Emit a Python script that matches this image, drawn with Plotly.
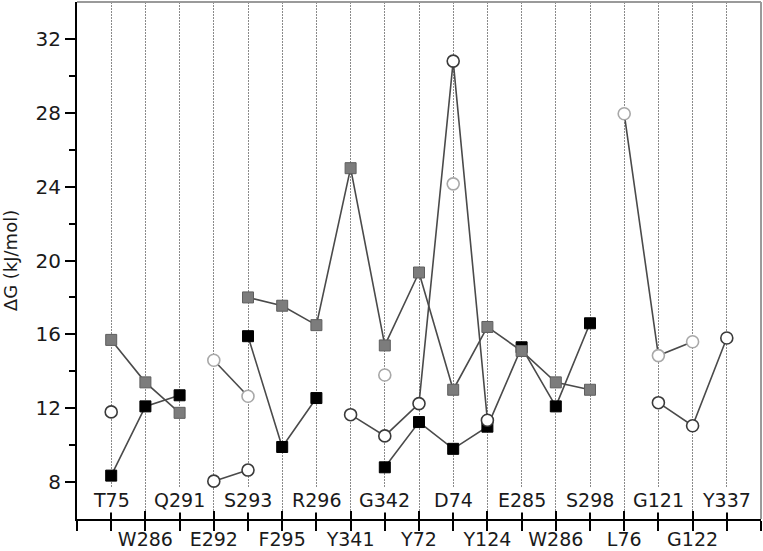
import plotly.graph_objects as go

categories = ["T75", "W286", "Q291", "E292", "S293", "F295", "R296", "Y341", "G342",
              "Y72", "D74", "Y124", "E285", "W286", "S298", "L76", "G121", "G122", "Y337"]

gray_squares = [15.7, 13.4, 11.75, None, 18.0, 17.55, 16.5, 25.0, 15.4, 19.35, 13.0,
                16.4, 15.1, 13.4, 13.0, None, None, None, None]
black_squares = [8.35, 12.1, 12.7, None, 15.9, 9.9, 12.55, None, 8.8, 11.25, 9.8,
                 11.0, 15.3, 12.1, 16.6, None, None, None, None]
dark_circles = [11.8, None, None, 8.05, 8.65, None, None, 11.65, 10.5, 12.25, 30.8,
                11.35, None, None, None, None, 12.3, 11.05, 15.8]
light_circles = [None, None, None, 14.6, 12.65, None, None, None, 13.8, None, 24.15,
                 None, None, None, None, 27.95, 14.85, 15.6, None]

y_ticks = [8, 12, 16, 20, 24, 28, 32]
y_minor = [10, 14, 18, 22, 26, 30]

pos = list(range(1, len(categories) + 1))
FONT = "DejaVu Sans"
TXT = "#1a1a1a"
LINE = "#4a4a4a"

fig = go.Figure()

fig.add_trace(go.Scatter(
    x=pos, y=black_squares, mode="lines+markers",
    line=dict(color=LINE, width=1.6),
    marker=dict(symbol="square", size=11, color="#000000",
                line=dict(color="#000000", width=1)),
    connectgaps=False, showlegend=False))
fig.add_trace(go.Scatter(
    x=pos, y=gray_squares, mode="lines+markers",
    line=dict(color=LINE, width=1.6),
    marker=dict(symbol="square", size=11, color="#7c7c7c",
                line=dict(color="#5e5e5e", width=1)),
    connectgaps=False, showlegend=False))
fig.add_trace(go.Scatter(
    x=pos, y=dark_circles, mode="lines+markers",
    line=dict(color=LINE, width=1.6),
    marker=dict(symbol="circle", size=12, color="#ffffff",
                line=dict(color="#3a3a3a", width=1.6)),
    connectgaps=False, showlegend=False))
fig.add_trace(go.Scatter(
    x=pos, y=light_circles, mode="lines+markers",
    line=dict(color=LINE, width=1.6),
    marker=dict(symbol="circle", size=12, color="#ffffff",
                line=dict(color="#a8a8a8", width=1.6)),
    connectgaps=False, showlegend=False))
# empty trace so the overlaid tick axis (inner tick marks) is rendered
fig.add_trace(go.Scatter(x=[], y=[], xaxis="x2", yaxis="y", mode="markers",
                         showlegend=False, hoverinfo="skip"))

all_vals = [0] + pos + [len(categories) + 1]
bottom_text = [""] + [c if i % 2 == 1 else "" for i, c in enumerate(categories)] + [""]

fig.update_layout(
    width=763, height=551,
    margin=dict(l=77, r=2, t=2, b=32, autoexpand=False),
    paper_bgcolor="white", plot_bgcolor="white",
    font=dict(family=FONT, size=20, color=TXT),
    xaxis=dict(
        range=[0, len(categories) + 1], automargin=False,
        tickmode="array", tickvals=all_vals, ticktext=bottom_text,
        ticks="outside", ticklen=10, tickwidth=2, tickcolor="black",
        ticklabelstandoff=-8,
        showline=True, linecolor="black", linewidth=2,
        showgrid=True, gridcolor="#8a8a8a", gridwidth=1, griddash="1.5px,1.5px",
        zeroline=False, tickfont=dict(family=FONT, size=19, color=TXT),
    ),
    xaxis2=dict(
        range=[0, len(categories) + 1], overlaying="x", anchor="y", side="bottom",
        automargin=False,
        tickmode="array", tickvals=all_vals, ticktext=[""] * len(all_vals),
        ticks="inside", ticklen=8, tickwidth=2, tickcolor="black",
        showline=False, showgrid=False, zeroline=False, showticklabels=False,
    ),
    yaxis=dict(
        range=[6, 34], automargin=False,
        tickmode="array", tickvals=y_ticks,
        ticks="outside", ticklen=10, tickwidth=2, tickcolor="black",
        minor=dict(tickvals=y_minor, ticks="outside", ticklen=6, tickwidth=2,
                   tickcolor="black", showgrid=False),
        showline=True, linecolor="black", linewidth=2,
        showgrid=False, zeroline=False,
        tickfont=dict(family=FONT, size=20, color=TXT),
        title=dict(text="ΔG (kJ/mol)", font=dict(family=FONT, size=18, color=TXT),
                   standoff=14),
    ),
    shapes=[
        dict(type="line", xref="paper", yref="paper", x0=0, x1=1, y0=1, y1=1,
             line=dict(color="#9a9a9a", width=2)),
        dict(type="line", xref="paper", yref="paper", x0=1, x1=1, y0=0, y1=1,
             line=dict(color="#9a9a9a", width=2)),
    ],
)

for i, c in enumerate(categories):
    if i % 2 == 0:
        fig.add_annotation(x=pos[i], y=0.037, xref="x", yref="paper",
                           text=c, showarrow=False, bgcolor="white",
                           font=dict(family=FONT, size=19, color=TXT),
                           yanchor="middle")

fig.write_html("out.html", config={"displayModeBar": False},
               post_script="document.body.style.margin='0';document.body.style.padding='0';")
